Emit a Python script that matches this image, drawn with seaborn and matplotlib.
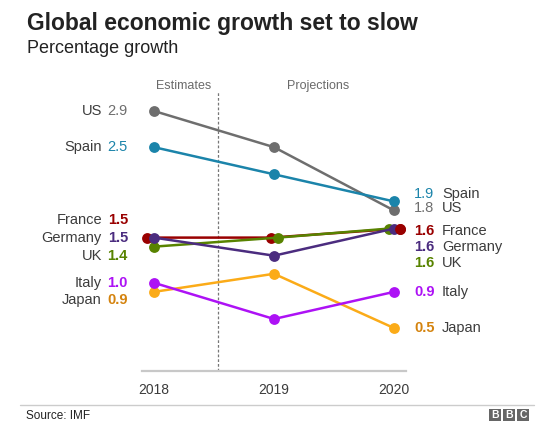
import pandas as pd
import matplotlib.pyplot as plt
import seaborn as sns
from matplotlib.lines import Line2D
from matplotlib.patches import Rectangle

# Data: IMF growth estimates / projections (%)
years = ["2018", "2019", "2020"]
countries = ["US", "Spain", "Japan", "Italy", "France", "UK", "Germany"]
us = [2.9, 2.5, 1.8]
spain = [2.5, 2.2, 1.9]
france = [1.5, 1.5, 1.6]
germany = [1.5, 1.3, 1.6]
uk = [1.4, 1.5, 1.6]
italy = [1.0, 0.6, 0.9]
japan = [0.9, 1.1, 0.5]
values = {"US": us, "Spain": spain, "France": france, "Germany": germany,
          "UK": uk, "Italy": italy, "Japan": japan}

line_colors = {"US": "#6e6e6e", "Spain": "#1b84aa", "France": "#990000",
               "Germany": "#4b2c7f", "UK": "#588300", "Italy": "#ad12f5",
               "Japan": "#fbab18"}
text_colors = dict(line_colors, Japan="#d4830e")

# small sideways nudges (pixels) so overlapping dots stay visible
dodge_px = {"France": [-7, -3, 6], "UK": [0, 4, -5]}
# vertical nudges (pixels) of the side labels to keep them apart
left_nudge = {"France": 18, "UK": -9, "Japan": -8}
right_nudge = {"Spain": 7, "US": 2, "France": -2, "Germany": -18, "UK": -34}

sns.set_theme(style="white")
plt.rcParams["font.family"] = ["Liberation Sans", "DejaVu Sans"]

fig = plt.figure(figsize=(5.4, 4.32), dpi=100)
ax = fig.add_axes([142 / 540, 61 / 432, 264 / 540, 279 / 432])
ax.set_xlim(-0.1, 2.1)
ax.set_ylim(0.025, 3.11)
px_per_unit = 264 / 2.2

rows = []
for c in countries:
    for i, v in enumerate(values[c]):
        dx = dodge_px.get(c, [0, 0, 0])[i] / px_per_unit
        rows.append({"country": c, "x": i + dx, "growth": v})
df = pd.DataFrame(rows)

sns.lineplot(data=df, x="x", y="growth", hue="country", hue_order=countries,
             palette=line_colors, marker="o", markersize=7.8, markeredgewidth=0,
             linewidth=1.8, estimator=None, sort=False, legend=False, ax=ax)

# France's 2020 dot sits on top of the cluster in the original
fr_last = df[df["country"] == "France"].iloc[-1]
ax.plot(fr_last["x"], fr_last["growth"], "o", ms=7.8, mew=0,
        color=line_colors["France"], zorder=3)

# estimates / projections divider
ax.axvline(0.53, color="#777777", lw=0.9, ls=(0, (2.2, 1.6)), zorder=0)
ax.text(0.243, 1.02, "Estimates", transform=ax.get_xaxis_transform(),
        ha="center", va="center", fontsize=9, color="#6a6a6a")
ax.text(1.37, 1.02, "Projections", transform=ax.get_xaxis_transform(),
        ha="center", va="center", fontsize=9, color="#6a6a6a")

# side labels
for c in countries:
    v0, v2 = values[c][0], values[c][2]
    bold = "normal" if c in ("US", "Spain") else "bold"
    ln = left_nudge.get(c, 0)
    ax.annotate(f"{v0:.1f}", (0, v0), xytext=(-26, ln), textcoords="offset pixels",
                ha="right", va="center", fontsize=10.5, color=text_colors[c],
                fontweight=bold)
    ax.annotate(c, (0, v0), xytext=(-52, ln), textcoords="offset pixels",
                ha="right", va="center", fontsize=10.5, color="#3c3c3c")
    rn = right_nudge.get(c, 0)
    ax.annotate(f"{v2:.1f}", (2, v2), xytext=(20, rn), textcoords="offset pixels",
                ha="left", va="center", fontsize=10.5, color=text_colors[c],
                fontweight=bold)
    ax.annotate(c, (2, v2), xytext=(48, rn), textcoords="offset pixels",
                ha="left", va="center", fontsize=10.5, color="#3c3c3c")

ax.set_xticks(range(len(years)))
ax.set_xticklabels(years, fontsize=10, color="#3c3c3c")
ax.set_yticks([])
ax.set_xlabel("")
ax.set_ylabel("")
ax.tick_params(axis="x", length=0, pad=9)
sns.despine(ax=ax, left=True)
ax.spines["bottom"].set_color("#c8c8c8")
ax.spines["bottom"].set_linewidth(1.6)

# title block
fig.text(27 / 540, 1 - 30 / 432, "Global economic growth set to slow",
         fontsize=16.5, fontweight="bold", color="#222222", va="baseline")
fig.text(27 / 540, 1 - 53 / 432, "Percentage growth", fontsize=13,
         color="#222222", va="baseline")

# footer
fig.add_artist(Line2D([20 / 540, 534 / 540], [1 - 405 / 432] * 2,
                      color="#cccccc", lw=1))
fig.text(26 / 540, 1 - 416 / 432, "Source: IMF", fontsize=8.5,
         color="#222222", va="center")
for i, letter in enumerate("BBC"):
    x0 = (489 + i * 14) / 540
    fig.add_artist(Rectangle((x0, 1 - 421 / 432), 12 / 540, 12 / 432,
                             transform=fig.transFigure, color="#666666", lw=0))
    fig.text(x0 + 6 / 540, 1 - 415 / 432, letter, fontsize=7.5,
             fontweight="bold", color="white", ha="center", va="center")

fig.savefig("out.png", dpi=100)
